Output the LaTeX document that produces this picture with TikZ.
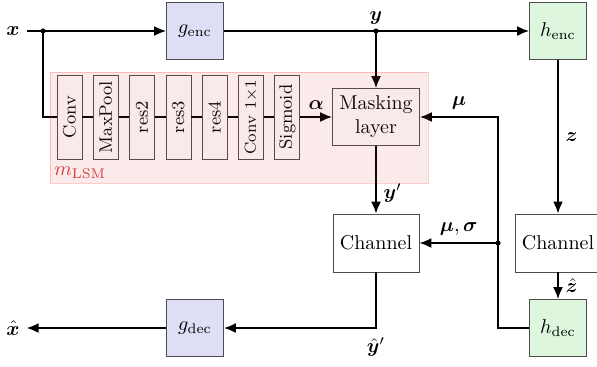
\documentclass[tikz,border=0pt]{standalone}
\usepackage{amsmath}
\usepackage{bm}
\usetikzlibrary{arrows.meta}

\definecolor{gblue}{RGB}{222,222,247}
\definecolor{hgreen}{RGB}{221,246,221}
\definecolor{lsmred}{RGB}{215,60,60}
\definecolor{lsmfill}{RGB}{205,50,50}

\tikzset{
  blk/.style={ draw=black!70, fill=white, minimum size=28.5pt, inner sep=2pt }
}
\tikzset{
  gblk/.style={ blk, fill=gblue }
}
\tikzset{
  hblk/.style={ blk, fill=hgreen }
}
\tikzset{
  chan/.style={ draw=black!70, fill=white, minimum width=43pt, minimum height=29pt }
}
\tikzset{
  lsmblock/.style={ draw=black!70, fill=white, rotate=90, minimum width=42pt,
    minimum height=12.5pt, inner sep=1pt, font=\small }
}
\tikzset{
  wire/.style={ line width=0.9pt },
  arr/.style={ wire, -{Latex[length=6pt, width=5pt]} }
}

\begin{document}
\begin{tikzpicture}[x=0.5pt, y=-0.5pt]
  \useasboundingbox (0,0) rectangle (597,366);

  \node (xin) at (13,31) {$\bm{x}$};
  \node[gblk] (genc) at (195,31) {$g_{\text{enc}}$};
  \node[hblk] (henc) at (558,31) {$h_{\text{enc}}$};
  \node[gblk] (gdec) at (195,328) {$g_{\text{dec}}$};
  \node[hblk] (hdec) at (558,328) {$h_{\text{dec}}$};
  \node (xout) at (13,328) {$\hat{\bm{x}}$};
  \node[chan] (ch1) at (376,243) {Channel};
  \node[chan] (ch2) at (558,243) {Channel};
  \node[chan, minimum width=43.5pt, minimum height=28.5pt, align=center] (mask) at (376,117) {Masking\\layer};

  % layers of the LSM network
  \foreach \nm/\txt [count=\i from 0] in {conv/Conv, pool/MaxPool, res2/res2, res3/res3,
      res4/res4, conv1/{\footnotesize Conv 1$\times$1}, sigm/Sigmoid}
    \node[lsmblock] (\nm) at ({69.5+36.3*\i},117) {\txt};

  \coordinate (jx) at (43,31);
  \coordinate[label=above:$\bm{y}$] (jy) at (mask |- genc);
  \coordinate (jm) at (498,243);

  \draw[arr] (xin) -- (genc);
  \draw[wire] (jx) |- (conv);
  \foreach \a/\b in {conv/pool, pool/res2, res2/res3, res3/res4, res4/conv1, conv1/sigm}
    \draw[wire] (\a) -- (\b);
  \draw[arr] (sigm) -- node[above] {$\bm{\alpha}$} (mask);

  \draw[arr] (genc) -- (henc);
  \draw[arr] (jy) -- (mask);
  \draw[arr] (henc) -- node[right] {$\bm{z}$} (ch2);
  \draw[arr] (ch2) -- node[right] {$\hat{\bm{z}}$} (hdec);
  \draw[arr] (hdec) -| (jm) |- node[above, pos=0.75] {$\bm{\mu}$} (mask);
  \draw[arr] (jm) -- node[above] {$\bm{\mu},\bm{\sigma}$} (ch1);
  \draw[arr] (mask) -- node[right, pos=0.7] {$\bm{y}'$} (ch1);
  \draw[arr] (ch1) |- node[below, pos=0.5, yshift=-1pt] {$\hat{\bm{y}}'$} (gdec);
  \draw[arr] (gdec) -- (xout);

  \fill (jx) circle (1.3pt);
  \fill (jy) circle (1.3pt);
  \fill (jm) circle (1.3pt);

  % LSM region, laid over its layers
  \fill[lsmfill, fill opacity=0.1] (50,72) rectangle (428,183);
  \draw[red, draw opacity=0.2, line width=0.5pt] (50,72) rectangle (428,183);
  \node[anchor=south west, text=lsmred, inner sep=2pt] (mlsm) at (50,183) {$m_{\text{LSM}}$};
\end{tikzpicture}
\end{document}
